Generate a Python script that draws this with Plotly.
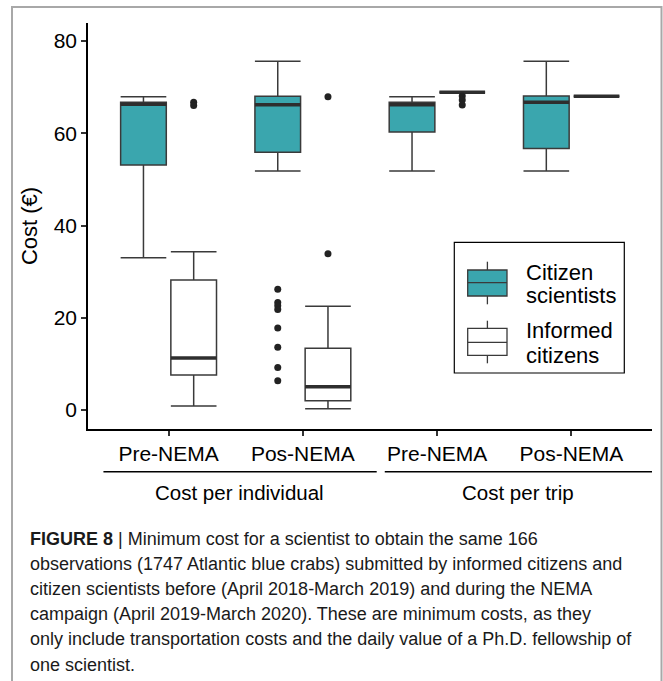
import plotly.graph_objects as go

# ---------------- data ----------------
groups = ["Pre-NEMA", "Pos-NEMA", "Pre-NEMA", "Pos-NEMA"]
super_groups = ["Cost per individual", "Cost per trip"]

# Citizen scientists
cit_q1 = [53.1, 55.9, 60.3, 56.7]
cit_med = [66.3, 66.2, 66.2, 66.7]
cit_q3 = [66.7, 68.0, 66.7, 68.1]
cit_lo = [33.0, 51.8, 51.8, 51.8]
cit_hi = [67.9, 75.6, 67.9, 75.6]
cit_out = [[], [26.2, 23.3, 22.6, 21.8, 17.8, 13.6, 9.25, 6.35], [], []]

# Informed citizens
inf_q1 = [7.6, 2.0, 68.9, 68.0]
inf_med = [11.3, 5.05, 68.9, 68.0]
inf_q3 = [28.2, 13.4, 68.9, 68.0]
inf_lo = [0.87, 0.3, 68.9, 68.0]
inf_hi = [34.3, 22.5, 68.9, 68.0]
inf_out = [[66.7, 66.0], [67.9, 33.9], [68.1, 67.2, 66.1], []]

y_ticks = [0, 20, 40, 60, 80]

caption = [
    "<b>FIGURE 8</b> | Minimum cost for a scientist to obtain the same 166",
    "observations (1747 Atlantic blue crabs) submitted by informed citizens and",
    "citizen scientists before (April 2018-March 2019) and during the NEMA",
    "campaign (April 2019-March 2020). These are minimum costs, as they",
    "only include transportation costs and the daily value of a Ph.D. fellowship of",
    "one scientist.",
]

# ---------------- styling ----------------
TEAL = "#3aa6ae"
EDGE = "#3a3a3a"
FONT = "Liberation Sans, Arial, sans-serif"
W, H = 663, 681
L_PX, R_PX, T_PX, B_PX = 88, 652, 23, 429
OFFSET = 0.187
BOXW = 0.34


def px_x(px):
    return (px - L_PX) / (R_PX - L_PX)


def px_y(py):
    return (B_PX - py) / (B_PX - T_PX)


idx = list(range(len(groups)))
cit_pos = [i - OFFSET for i in idx]
inf_pos = [i + OFFSET for i in idx]

fig = go.Figure()


def add_series(pos, q1, med, q3, lo, hi, outs, fill, name):
    fig.add_trace(go.Box(
        x=pos, q1=q1, median=med, q3=q3, lowerfence=lo, upperfence=hi,
        width=BOXW, whiskerwidth=1, fillcolor=fill,
        line=dict(color=EDGE, width=1.5), boxpoints=False,
        name=name, showlegend=False, hoverinfo="skip",
    ))
    mx, my = [], []
    for p, m in zip(pos, med):
        mx += [p - BOXW / 2, p + BOXW / 2, None]
        my += [m, m, None]
    fig.add_trace(go.Scatter(x=mx, y=my, mode="lines",
                             line=dict(color="#2e2e2e", width=3.5),
                             showlegend=False, hoverinfo="skip"))
    ox, oy = [], []
    for p, vals in zip(pos, outs):
        for v in vals:
            ox.append(p)
            oy.append(v)
    fig.add_trace(go.Scatter(x=ox, y=oy, mode="markers",
                             marker=dict(color="#222222", size=7),
                             showlegend=False, hoverinfo="skip"))


add_series(cit_pos, cit_q1, cit_med, cit_q3, cit_lo, cit_hi, cit_out, TEAL, "Citizen scientists")
add_series(inf_pos, inf_q1, inf_med, inf_q3, inf_lo, inf_hi, inf_out, "white", "Informed citizens")

shapes = []
annotations = []

# group separator lines under the x tick labels
for x0, x1 in [(-0.485, 1.55), (1.61, 3.6)]:
    shapes.append(dict(type="line", xref="x", yref="paper", x0=x0, x1=x1,
                       y0=px_y(471.7), y1=px_y(471.7),
                       line=dict(color="black", width=1.5)))
for label, xc in zip(super_groups, [0.53, 2.6]):
    annotations.append(dict(text=label, xref="x", yref="paper", x=xc, y=px_y(492),
                            xanchor="center", yanchor="middle", showarrow=False,
                            font=dict(size=20.5, family=FONT, color="black")))

# custom legend
shapes.append(dict(type="rect", xref="paper", yref="paper",
                   x0=px_x(454.3), x1=px_x(624.3), y0=px_y(373), y1=px_y(242.3),
                   line=dict(color="black", width=1.2), fillcolor="white", layer="above"))
for (wt, wb, bt, bb, md, fill) in [(261.7, 304.3, 270, 296, 282.7, TEAL),
                                    (320.7, 363.3, 328.3, 355.3, 342.3, "white")]:
    shapes.append(dict(type="line", xref="paper", yref="paper",
                       x0=px_x(487.4), x1=px_x(487.4), y0=px_y(wb), y1=px_y(wt),
                       line=dict(color=EDGE, width=1.3), layer="above"))
    shapes.append(dict(type="rect", xref="paper", yref="paper",
                       x0=px_x(467.7), x1=px_x(507), y0=px_y(bb), y1=px_y(bt),
                       line=dict(color=EDGE, width=1.3), fillcolor=fill, layer="above"))
    shapes.append(dict(type="line", xref="paper", yref="paper",
                       x0=px_x(467.7), x1=px_x(507), y0=px_y(md), y1=px_y(md),
                       line=dict(color=EDGE, width=1.3), layer="above"))
for txt, yc in [("Citizen", 272.7), ("scientists", 295.5), ("Informed", 330.7), ("citizens", 355)]:
    annotations.append(dict(text=txt, xref="paper", yref="paper", x=px_x(524), y=px_y(yc),
                            xanchor="left", yanchor="middle", showarrow=False,
                            font=dict(size=22, family=FONT, color="black")))

# caption
for k, line in enumerate(caption):
    annotations.append(dict(text=line, xref="paper", yref="paper", x=px_x(28), y=px_y(538.5 + 25.2 * k),
                            xanchor="left", yanchor="middle", showarrow=False,
                            font=dict(size=18, family=FONT, color="#1a1a1a")))

# outer frame
shapes.append(dict(type="rect", xref="paper", yref="paper",
                   x0=px_x(12), x1=px_x(661.5), y0=px_y(705), y1=px_y(7),
                   line=dict(color="#a8a8a8", width=2), layer="above"))

fig.update_layout(
    width=W, height=H,
    margin=dict(l=L_PX, r=W - R_PX, t=T_PX, b=H - B_PX, autoexpand=False),
    plot_bgcolor="white", paper_bgcolor="white",
    showlegend=False,
    font=dict(family=FONT, color="black"),
    shapes=shapes, annotations=annotations,
)
fig.update_xaxes(range=[-0.6, 3.6], tickmode="array", tickvals=idx, ticktext=groups,
                 showline=True, linecolor="black", linewidth=1.5, ticks="outside",
                 ticklen=5, tickwidth=1.5, tickcolor="#333", showgrid=False, zeroline=False,
                 tickfont=dict(size=21, family=FONT, color="black"))
fig.update_yaxes(range=[-4.1, 83.9], tickmode="array", tickvals=y_ticks,
                 showline=True, linecolor="black", linewidth=1.5, ticks="outside",
                 ticklen=5, tickwidth=1.5, tickcolor="#333", showgrid=False, zeroline=False,
                 tickfont=dict(size=21, family=FONT, color="black"),
                 title=dict(text="Cost (€)", font=dict(size=22, family=FONT, color="black"), standoff=10))

# remove the browser's default 8px page margin so the figure sits at the top-left corner
fig.write_html("out.html", config={"displayModeBar": False},
               post_script="document.body.style.margin='0px';")
